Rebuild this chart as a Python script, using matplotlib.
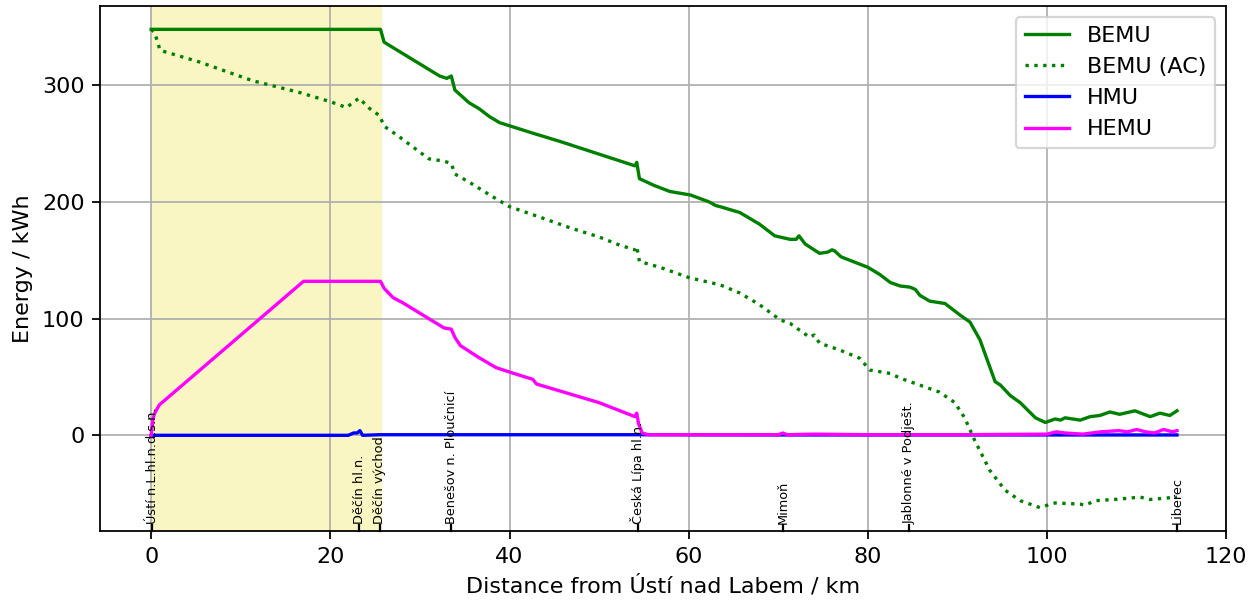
import matplotlib
matplotlib.use("Agg")
import matplotlib.pyplot as plt
import matplotlib.transforms as mtransforms

# ---- data ----
bemu_x = [0, 0.3, 25.6, 26.0, 32.2, 33.0, 33.5, 33.9, 35.5, 36.6, 37.8, 38.9, 42.6, 45.6, 50.0,
          54.0, 54.2, 54.5, 56.2, 57.9, 60.2, 62.3, 63.0, 63.5, 65.7, 67.9, 69.6, 71.3, 72.0, 72.3, 73.0,
          74.6, 75.5, 76.0, 76.3, 77.0, 80.0, 81.3, 82.5, 83.6, 84.7, 85.3, 85.8, 86.9, 88.6, 90.3,
          91.4, 92.5, 94.2, 94.8, 95.9, 97.0, 98.7, 99.8, 100.9, 101.5, 102.0, 103.7, 104.8, 105.9,
          107.0, 108.1, 109.8, 111.5, 112.6, 113.7, 114.5]
bemu_y = [348, 348, 348, 337, 308, 306, 308, 296, 285, 280, 273, 268, 259, 252, 241,
          231, 234, 220, 214, 209, 206, 200, 197, 196, 191, 181, 171, 168, 168, 171, 164,
          156, 157, 159, 158, 153, 144, 138, 131, 128, 127, 125, 120, 115, 113, 103,
          97, 82, 46, 43, 34, 28, 15, 11, 14, 13, 15, 13, 16, 17,
          20, 18, 21, 16, 19, 17, 21]

bemu_ac_x = [0, 0.4, 1.0, 5.4, 11.3, 16.5, 20.0, 21.8, 23.2, 24.4, 25.5, 26.0, 27.5, 31.0, 32.7, 33.5,
             33.9, 35.5, 37.8, 40.0, 43.4, 46.7, 50.0, 52.3, 54.0, 54.2, 54.5, 56.8, 60.1, 63.5,
             65.7, 67.9, 70.2, 71.3, 72.4, 73.5, 74.0, 74.6, 76.9, 79.1, 80.2, 82.5, 83.6, 85.8,
             88.0, 89.7, 90.8, 91.9, 93.6, 95.3, 97.0, 99.2, 100.0, 100.9, 103.7, 104.2, 105.4,
             107.5, 110.4, 111.5, 113.0, 114.5]
bemu_ac_y = [348, 345, 330, 320, 304, 294, 286, 281, 289, 280, 274, 265, 257, 237, 235, 233,
             224, 217, 206, 196, 187, 178, 170, 163, 159, 162, 149, 144, 135, 129,
             122, 112, 99, 96, 90, 84, 86, 79, 73, 66, 56, 53, 49, 43,
             37, 28, 15, -4, -30, -47, -56, -62, -60, -58, -59, -60, -56,
             -55, -53, -55, -54, -53]

hmu_x = [0, 22.0, 22.6, 23.0, 23.3, 23.6, 25.5, 33.5, 54.3, 70.5, 100.0, 114.5]
hmu_y = [0, 0, 2, 2, 4, 0, 0.5, 0.5, 0.5, 0.3, 0.3, 0.3]

hemu_x = [0, 0.2, 0.4, 0.9, 17.0, 25.6, 26.0, 27.0, 28.0, 32.7, 33.5, 33.9, 34.5, 36.5, 38.5, 40.5,
          42.6, 43.0, 50.0, 54.0, 54.2, 54.4, 54.8, 55.5, 60, 70.0, 70.5, 71.0, 74.0, 80.0,
          85.0, 90.0, 100.0, 101.0, 102.0, 104.0, 106.0, 108.0, 109.0, 110.0, 111.0, 112.0,
          113.0, 114.0, 114.5]
hemu_y = [0, 14, 19, 26, 132, 132, 126, 118, 114, 92, 91, 84, 77, 67, 58, 53,
          48, 44, 28, 16, 19, 10, 2, 0.5, 0.5, 0.5, 2, 0.5, 1, 0.5,
          0.5, 0.5, 1, 3, 2, 1, 3, 4, 3, 5, 3, 2,
          5, 3, 4]

stations = ["Ústí n.L.hl.n.d.s.n.", "Děčín hl.n.", "Děčín východ", "Benešov n. Ploučnicí",
            "Česká Lípa hl.n.", "Mimoň", "Jablonné v Podješt.", "Liberec"]
station_km = [0.1, 23.2, 25.5, 33.5, 54.3, 70.5, 84.6, 114.5]

span_km = [0, 25.6]

DPI = 160
fig, ax = plt.subplots(figsize=(1259 / DPI, 602 / DPI), dpi=DPI)
fig.subplots_adjust(left=0.0795, right=0.974, top=0.99, bottom=0.118)

ax.axvspan(span_km[0], span_km[1], color='#f9f6c3', zorder=0)
ax.grid(True, color='#b0b0b0', zorder=1)
ax.set_axisbelow(True)

ax.plot(bemu_x, bemu_y, color='green', label='BEMU', zorder=3)
ax.plot(bemu_ac_x, bemu_ac_y, color='green', ls=':', label='BEMU (AC)', zorder=3)
ax.plot(hmu_x, hmu_y, color='blue', label='HMU', zorder=3)
ax.plot(hemu_x, hemu_y, color='magenta', label='HEMU', zorder=3)

trans = mtransforms.blended_transform_factory(ax.transData, ax.transAxes)
for name, km in zip(stations, station_km):
    ax.plot([km, km], [0, 0.011], color='black', lw=1.0, transform=trans, zorder=4, clip_on=False)
    ax.text(km, 0.013, name, rotation=90, ha='center', va='bottom', fontsize=5.8,
            transform=trans, zorder=4)

ax.set_xlim(-5.7, 120)
ax.set_ylim(-82, 368)
ax.set_xticks([0, 20, 40, 60, 80, 100, 120])
ax.set_yticks([0, 100, 200, 300])
ax.set_xlabel('Distance from Ústí nad Labem / km')
ax.set_ylabel('Energy / kWh')
ax.legend(loc='upper right')

fig.savefig('out.png', dpi=DPI)
